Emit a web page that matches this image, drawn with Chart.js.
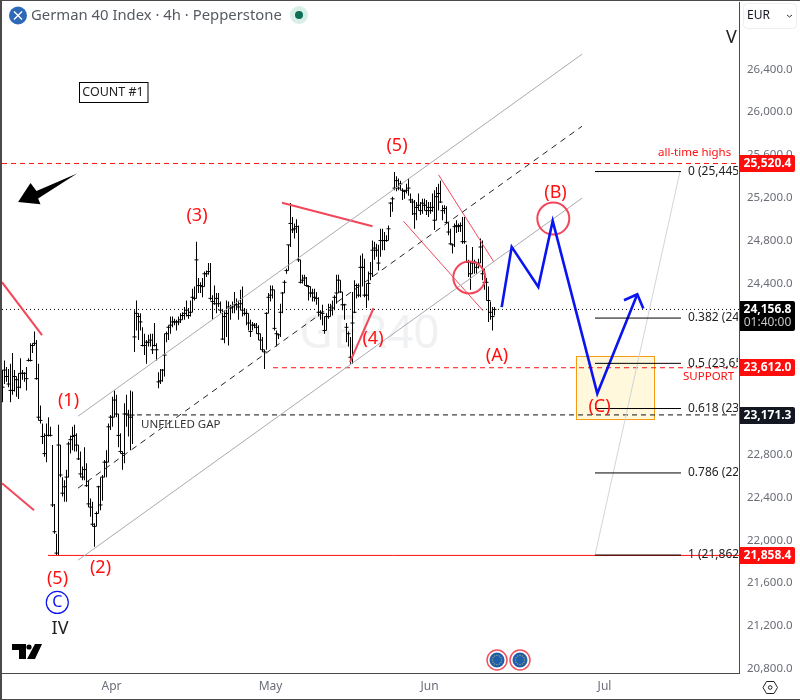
<!DOCTYPE html>
<html>
<head>
<meta charset="utf-8">
<title>German 40 Index</title>
<script src="https://cdn.jsdelivr.net/npm/chart.js@4"></script>
<style>
  html, body { margin: 0; padding: 0; background: #fff; }
  #wrap { width: 800px; height: 700px; }
</style>
</head>
<body>
<div id="wrap"><canvas id="chart" width="800" height="700"></canvas></div>
<script>
// --- Price bars, one entry per 4h bar ---
const highs = [
23590,23680,23620,23600,23650,23750,23590,23530,23560,23700,23590,23570,23620,23700,23840,23840,23950,23870,23650,23260,23090,23000,23090,23150,23060,22890,22340,22060,23080,22890,22590,22560,22660,22920,22980,23060,23080,23000,22890,22830,22690,22870,22720,22560,22390,22360,22160,22270,22510,22590,22610,22750,22840,23090,23170,23340,23400,23360,23180,23000,22830,23280,23360,23220,23400,23390,
24150,24240,24120,24120,23990,23930,23870,23920,23930,23930,24030,23840,23570,23600,23600,23930,23950,24010,24090,24090,24070,24060,24090,24120,24130,24180,24240,24170,24240,24350,24370,24790,24450,24410,24450,24510,24520,24590,24590,24290,24380,24310,24310,24230,24150,24150,24240,24230,24200,24230,24320,24260,24240,24340,24370,24170,24150,24120,24060,24040,24030,24030,24010,23930,23900,23780,24130,24310,24380,24380,24340,23960,23930,24210,24320,24430,24540,24760,25150,25020,24960,25000,24940,24620,24480,24480,24460,24380,24370,24350,24350,24320,24270,24150,24200,24090,24120,24210,24210,
24240,24290,24480,24480,24430,24320,24210,24030,23950,23900,24320,24430,24400,24400,24660,24680,24630,24400,24510,24600,24800,24790,24770,24760,24910,24910,24880,24850,24940,25160,25210,25440,25400,25380,25360,25290,25270,25330,25380,25240,25190,25180,25160,25240,25160,25190,25190,25180,25160,25160,25240,25270,25300,25330,25360,25130,25130,25120,24970,24910,24770,24960,24990,24960,24970,25020,25020,24760,24620,24600,24740,24620,24600,24630,24820,24800,24540,24450,24370,24230,24180,24180
];
const lows = [
23290,23460,23480,23430,23290,23360,23390,23340,23320,23420,23500,23480,23400,23670,23670,23750,23820,23500,23120,23090,22900,22780,22730,22970,22970,22310,22060,21860,21860,22590,22410,22360,22360,22590,22810,22840,22830,22830,22750,22590,22560,22560,22500,22310,22220,22130,21940,22130,22250,22280,22370,22590,22590,22730,23030,23060,23150,23150,22870,22810,22660,22720,23060,22970,22840,22900,
23760,23960,23870,23960,23810,23730,23650,23810,23810,23740,23810,23680,23420,23460,23480,23530,23850,23870,23930,23990,24010,23960,24010,24030,24060,24060,24090,24070,24090,24130,24240,24260,24310,24310,24270,24370,24460,24480,24240,24060,24200,24120,24180,24120,23870,23840,23900,23820,24060,24120,24120,24150,24060,24150,24090,24100,24010,23960,23900,23960,23980,23930,23870,23780,23760,23600,23780,24120,24230,24260,23960,23810,23880,23900,24120,24310,24490,24520,24740,24870,24820,24870,24600,24400,24400,24380,24370,24240,24270,24230,24230,24200,24090,24060,24010,23930,23960,24070,24090,
24100,24150,24210,24310,24310,24150,24060,23850,23810,23650,23650,24120,24260,24270,24270,24370,24270,24170,24240,24430,24460,24620,24650,24520,24650,24710,24710,24790,24800,25020,25070,25270,25260,25270,25270,25180,25190,25240,25220,25150,25040,24910,24990,25080,25040,25050,25080,25040,25020,25050,25070,24900,24990,25080,25150,24990,25050,24960,24850,24760,24680,24740,24870,24880,24880,24770,24770,24590,24460,24340,24490,24490,24490,24540,24590,24430,24340,24240,24040,24060,23960,24100
];
const closes = [
23430,23590,23530,23460,23400,23400,23530,23500,23430,23560,23560,23560,23510,23680,23680,23820,23840,23510,23150,23120,22970,22810,22980,22980,22980,22330,22080,21880,22890,22610,22440,22500,22590,22900,22940,22970,22980,22890,22760,22620,22590,22660,22510,22340,22310,22150,22130,22250,22500,22330,22590,22730,22730,23060,23150,23150,23310,23180,22980,22830,22810,23180,23180,23170,23150,23170,
23900,24120,24090,24040,23820,23820,23850,23850,23870,23780,23820,23780,23480,23490,23590,23730,23930,23990,24010,24040,24040,24040,24040,24060,24100,24120,24150,24100,24130,24270,24260,24620,24380,24380,24370,24490,24490,24510,24260,24230,24210,24260,24210,24150,23880,24090,24120,24180,24170,24180,24200,24200,24180,24210,24150,24120,24120,24030,23950,24010,24010,23990,23930,23870,23780,23760,24120,24270,24290,24340,23980,23930,23920,24130,24310,24410,24520,24760,24960,24900,24910,24930,24620,24410,24430,24450,24380,24370,24310,24310,24270,24260,24130,24130,24120,23960,24090,24090,24150,
24170,24270,24310,24430,24320,24200,24200,23990,23930,23710,24030,24130,24380,24290,24550,24550,24290,24290,24400,24490,24710,24730,24710,24590,24800,24800,24800,24800,24910,25150,25190,25290,25360,25290,25330,25270,25260,25270,25290,25180,25160,25050,25110,25130,25080,25150,25130,25080,25110,25080,25110,24990,25210,25240,25160,25080,25100,24970,24880,24770,24760,24930,24940,24930,24940,24790,24790,24600,24600,24490,24590,24600,24550,24590,24740,24490,24410,24410,24240,24130,24090,24156.8
];

// --- Axes ---
const priceTicks = [20800,21200,21600,22000,22400,22800,23200,23600,24000,24400,24800,25200,25600,26000,26400];
const monthTicks = [54.5,134,213.5,301];
const monthLabels = ['Apr','May','Jun','Jul'];

// --- Levels ---
const athLevel = 25520.4;
const supportLevel = 23612.0;
const gapLevel = 23171.3;
const lowLevel = 21858.4;
const lastPrice = 24156.8;
const fibLevels = [25445, 24076, 23653, 23231, 22629, 21862];
const fibNames = ['0 (25,445.0)','0.382 (24,076.5)','0.5 (23,653.5)','0.618 (23,231.0)','0.786 (22,629.0)','1 (21,862.0)'];

// --- Drawn tools, [bar, price] pairs ---
const channelUpper = [[37.75,23159],[289.75,26541]];
const channelMiddle = [[37.75,22487],[289.75,25868]];
const channelLower = [[37.75,21814],[289.75,25196]];
const redLineLeftTop = [[-0.25,24411],[19.75,23916]];
const redLineLeftLow = [[-0.25,22533],[15.75,22281]];
const redLineTop = [[139.75,25154],[185,24934]];
const redLineWave4 = [[173.75,23664],[185.5,24168]];
const thinRedUpper = [[218,25415],[245.75,24598]];
const thinRedLower = [[200.5,24981],[240.25,24145]];
const fibTrend = [[296.25,21862],[338.75,25445]];
const bluePath = [[249.6,24178],[254.6,24741],[267.9,24367],[275.1,24984],[297.4,23371],[317.4,24299]];
const blueHead = [[310.75,24243],[317.4,24299],[320.4,24165]];
const redCircles = [[233.4,24455],[275.4,25006]];
const blueCircle = [[27.4,21419]];
const supportBox = [286.6,23720,325.4,23128];
const bigArrow = [[37.3,25427],[17,25264],[14,25339],[7.8,25161],[19,25140],[17.8,25193]];

const FONT = '"Noto Sans", sans-serif';
const RED = '#ff1010';
const SOFT_RED = '#f2475a';
const BLUE = '#0a14f0';

const points = arr => arr.map(p => ({ x: p[0], y: p[1] }));
const hLine = (y, from, to) => [{ x: from, y }, { x: to, y }];

function lineSet(data, color, width, dash, order) {
    return {
        type: 'scatter', data, showLine: true, borderColor: color, backgroundColor: color,
        borderWidth: width, borderDash: dash || [], pointRadius: 0, order: order || 2,
        tension: 0, fill: false
    };
}

const datasets = [
    {
        type: 'bar',
        data: highs.map((h, i) => ({ x: i, y: [lows[i], h] })),
        backgroundColor: '#000', borderWidth: 0, barThickness: 1, grouped: false,
        inflateAmount: 0, order: 6
    },
    {
        type: 'scatter',
        data: closes.map((c, i) => ({ x: i, y: c })),
        pointStyle: 'line', pointRadius: 2, borderColor: '#000', borderWidth: 1, order: 5
    },
    lineSet(hLine(lastPrice, -0.25, 368.25), '#000', 1, [1, 3], 7),
    lineSet(points(channelUpper), '#a9a9b0', 1),
    lineSet(points(channelMiddle), '#222', 1, [6, 5]),
    lineSet(points(channelLower), '#a9a9b0', 1),
    lineSet(points(fibTrend), '#d1d4dc', 1),
    lineSet(hLine(athLevel, -0.25, 368.25), RED, 1, [5, 4]),
    lineSet(hLine(supportLevel, 135.25, 368.25), RED, 1, [5, 4]),
    lineSet(hLine(gapLevel, 67.25, 368.25), '#111', 1, [5, 4]),
    lineSet(hLine(lowLevel, 22.75, 368.25), RED, 1),
    ...fibLevels.map(l => lineSet(hLine(l, 296.25, 339.25), '#000', 1, [], 1)),
    lineSet(points(redLineLeftTop), SOFT_RED, 2),
    lineSet(points(redLineLeftLow), SOFT_RED, 2),
    lineSet(points(redLineTop), SOFT_RED, 2),
    lineSet(points(redLineWave4), SOFT_RED, 2),
    lineSet(points(thinRedUpper), SOFT_RED, 1),
    lineSet(points(thinRedLower), SOFT_RED, 1),
    lineSet(points(bluePath), BLUE, 2.6, [], 1),
    lineSet(points(blueHead), BLUE, 2.6, [], 1),
    {
        type: 'scatter', data: points(redCircles), pointStyle: 'circle', pointRadius: 16,
        borderColor: SOFT_RED, borderWidth: 2, backgroundColor: 'transparent', order: 1
    },
    {
        type: 'scatter', data: points(blueCircle), pointStyle: 'circle', pointRadius: 11,
        borderColor: BLUE, borderWidth: 1.2, backgroundColor: 'transparent', order: 1
    }
];

// Text placed on the pane
const paneLabels = [
    { t: '(5)', x: 397, y: 146, c: RED, s: 18 },
    { t: '(3)', x: 197, y: 216, c: RED, s: 18 },
    { t: '(1)', x: 68.5, y: 400.5, c: RED, s: 18 },
    { t: '(2)', x: 100.5, y: 567.5, c: RED, s: 18 },
    { t: '(5)', x: 57.5, y: 578.5, c: RED, s: 18 },
    { t: '(4)', x: 373, y: 339, c: RED, s: 18 },
    { t: '(A)', x: 497, y: 356, c: RED, s: 18 },
    { t: '(B)', x: 555.5, y: 192.5, c: RED, s: 18 },
    { t: '(C)', x: 599.5, y: 406.5, c: RED, s: 18 },
    { t: 'C', x: 57.3, y: 602.5, c: BLUE, s: 16 },
    { t: 'IV', x: 60, y: 629, c: '#222', s: 18 },
    { t: 'V', x: 731.5, y: 37.5, c: '#222', s: 18 }
];

function text(ctx, t, x, y, color, size, align, weight) {
    ctx.font = (weight || '') + ' ' + size + 'px ' + FONT;
    ctx.fillStyle = color;
    ctx.textAlign = align || 'center';
    ctx.textBaseline = 'middle';
    ctx.fillText(t, x, y);
}

function priceTag(ctx, y0, h, bg, lines) {
    ctx.fillStyle = bg;
    ctx.beginPath();
    ctx.roundRect(740, y0, 55, h, [0, 2, 2, 0]);
    ctx.fill();
    lines.forEach((l, i) => text(ctx, l, 767.5, y0 + 8.5 + i * 13, i ? '#c8c8c8' : '#fff', 12, 'center', i ? '' : 'bold'));
}

const overlayPlugin = {
    id: 'overlay',
    beforeDatasetsDraw(chart) {
        const { ctx, scales: { x, y } } = chart;
        ctx.save();
        // symbol watermark
        text(ctx, 'GER40', 369.5, 335, '#f0f1f3', 46, 'center');
        // support zone
        const bx = x.getPixelForValue(supportBox[0]);
        const by = y.getPixelForValue(supportBox[1]);
        const bw = x.getPixelForValue(supportBox[2]) - bx;
        const bh = y.getPixelForValue(supportBox[3]) - by;
        ctx.fillStyle = '#fff8dc';
        ctx.fillRect(bx, by, bw, bh);
        ctx.strokeStyle = '#f59a14';
        ctx.lineWidth = 1;
        ctx.strokeRect(Math.round(bx) + 0.5, Math.round(by) + 0.5, Math.round(bw), Math.round(bh));
        ctx.restore();
    },
    afterDatasetsDraw(chart) {
        const { ctx, chartArea, scales: { x, y } } = chart;
        ctx.save();

        // big black arrow
        ctx.fillStyle = '#000';
        ctx.beginPath();
        bigArrow.forEach((p, i) => {
            const px = x.getPixelForValue(p[0]), py = y.getPixelForValue(p[1]);
            if (i) ctx.lineTo(px, py); else ctx.moveTo(px, py);
        });
        ctx.closePath();
        ctx.fill();

        // COUNT #1 box
        ctx.fillStyle = '#fff';
        ctx.fillRect(79.5, 82.5, 68.5, 20);
        ctx.strokeStyle = '#000';
        ctx.lineWidth = 1;
        ctx.strokeRect(79.5, 82.5, 68.5, 20);
        text(ctx, 'COUNT #1', 113, 92.5, '#222', 12.5);

        paneLabels.forEach(l => text(ctx, l.t, l.x, l.y, l.c, l.s));
        text(ctx, 'UNFILLED GAP', 141, 424.5, '#333', 11.5, 'left');
        text(ctx, 'all-time highs', 658, 153, RED, 11.5, 'left');
        text(ctx, 'SUPPORT', 683, 376.5, RED, 11.5, 'left');

        // fib labels run under the price scale
        ctx.save();
        ctx.beginPath();
        ctx.rect(chartArea.left, chartArea.top, chartArea.width - 1, chartArea.height);
        ctx.clip();
        fibLevels.forEach((l, i) => text(ctx, fibNames[i], 688, y.getPixelForValue(l), '#222', 12, 'left'));
        ctx.restore();

        // header
        ctx.fillStyle = '#2e69b8';
        ctx.beginPath(); ctx.arc(18, 15.5, 9, 0, Math.PI * 2); ctx.fill();
        ctx.strokeStyle = '#fff'; ctx.lineWidth = 1.4;
        ctx.beginPath();
        ctx.moveTo(14, 11.5); ctx.lineTo(22, 19.5);
        ctx.moveTo(22, 11.5); ctx.lineTo(14, 19.5);
        ctx.stroke();
        text(ctx, 'German 40 Index · 4h · Pepperstone', 31, 15.5, '#555a62', 14.85, 'left');
        ctx.fillStyle = '#d8efe8';
        ctx.beginPath(); ctx.arc(299, 15, 9, 0, Math.PI * 2); ctx.fill();
        ctx.fillStyle = '#0b6e55';
        ctx.beginPath(); ctx.arc(299, 15, 4, 0, Math.PI * 2); ctx.fill();

        // tradingview mark
        ctx.fillStyle = '#000';
        ctx.fillRect(12, 644, 14, 6);
        ctx.fillRect(19, 650, 7, 9);
        ctx.beginPath(); ctx.arc(29, 647, 2.6, 0, Math.PI * 2); ctx.fill();
        ctx.beginPath();
        ctx.moveTo(35, 644); ctx.lineTo(42, 644); ctx.lineTo(35, 659); ctx.lineTo(27, 659);
        ctx.closePath(); ctx.fill();

        // event flags
        [497, 520].forEach(cx => {
            ctx.strokeStyle = '#f0505f'; ctx.lineWidth = 1.5;
            ctx.beginPath(); ctx.arc(cx, 660, 10, 0, Math.PI * 2); ctx.stroke();
            ctx.fillStyle = '#1d5fae';
            ctx.beginPath(); ctx.arc(cx, 660, 7.5, 0, Math.PI * 2); ctx.fill();
            ctx.fillStyle = '#d8c23a';
            for (let k = 0; k < 12; k++) {
                const a = k * Math.PI / 6;
                ctx.fillRect(cx + Math.cos(a) * 4.6 - 0.5, 660 + Math.sin(a) * 4.6 - 0.5, 1, 1);
            }
        });

        // price scale tags
        priceTag(ctx, 155, 17, '#ff0c0c', ['25,520.4']);
        priceTag(ctx, 301, 30, '#000', ['24,156.8', '01:40:00']);
        priceTag(ctx, 359, 17, '#ff0c0c', ['23,612.0']);
        priceTag(ctx, 407, 17, '#131722', ['23,171.3']);
        priceTag(ctx, 547, 17, '#ff0c0c', ['21,858.4']);

        // currency button
        ctx.fillStyle = '#fff';
        ctx.strokeStyle = '#eeeeee'; ctx.lineWidth = 1;
        ctx.beginPath(); ctx.roundRect(743.5, 3.5, 53, 25, 4); ctx.fill(); ctx.stroke();
        text(ctx, 'EUR', 747, 15.5, '#131722', 12, 'left');
        ctx.strokeStyle = '#333'; ctx.lineWidth = 1;
        ctx.beginPath(); ctx.moveTo(787, 15); ctx.lineTo(789.5, 17); ctx.lineTo(792, 15); ctx.stroke();

        // settings hexagon
        ctx.strokeStyle = '#222'; ctx.lineWidth = 1;
        ctx.beginPath();
        ctx.moveTo(763, 687.5); ctx.lineTo(766.5, 681.5); ctx.lineTo(774, 681.5);
        ctx.lineTo(777.5, 687.5); ctx.lineTo(774, 693.5); ctx.lineTo(766.5, 693.5);
        ctx.closePath(); ctx.stroke();
        ctx.beginPath(); ctx.arc(770.2, 687.5, 1.8, 0, Math.PI * 2); ctx.stroke();

        // window frame
        ctx.strokeStyle = '#4a4a4a'; ctx.lineWidth = 1;
        ctx.beginPath();
        ctx.moveTo(0, 0.5); ctx.lineTo(800, 0.5);
        ctx.moveTo(800, 699.5); ctx.lineTo(0, 699.5);
        ctx.stroke();
        ctx.lineWidth = 2;
        ctx.beginPath(); ctx.moveTo(1, 0); ctx.lineTo(1, 700); ctx.stroke();
        ctx.restore();
    }
};

new Chart(document.getElementById('chart'), {
    data: { datasets },
    options: {
        responsive: false,
        animation: false,
        events: [],
        layout: { autoPadding: false, padding: { left: 2, top: 2, right: 0, bottom: 0 } },
        plugins: { legend: { display: false }, tooltip: { enabled: false }, title: { display: false } },
        scales: {
            x: {
                type: 'linear',
                min: -0.25,
                max: 368.25,
                offset: false,
                grid: { display: false, drawTicks: false },
                border: { display: true, color: '#4a4a4a' },
                afterBuildTicks: s => { s.ticks = monthTicks.map(v => ({ value: v })); },
                afterFit: s => { s.height = 27; s.paddingLeft = 0; s.paddingRight = 0; },
                ticks: {
                    padding: 6,
                    maxRotation: 0,
                    autoSkip: false,
                    color: '#6a6d78',
                    font: { family: FONT, size: 12 },
                    callback: v => monthLabels[monthTicks.indexOf(v)]
                }
            },
            y: {
                type: 'linear',
                position: 'right',
                min: 20760,
                max: 27029,
                grid: { display: false, drawTicks: false },
                border: { display: true, color: '#4a4a4a' },
                afterBuildTicks: s => { s.ticks = priceTicks.map(v => ({ value: v })); },
                afterFit: s => { s.width = 61; s.paddingTop = 0; s.paddingBottom = 0; },
                ticks: {
                    padding: 8,
                    autoSkip: false,
                    color: '#6a6d78',
                    font: { family: FONT, size: 11.5 },
                    callback: v => v.toLocaleString('en-US', { minimumFractionDigits: 1 })
                }
            }
        }
    },
    plugins: [overlayPlugin]
});
</script>
</body>
</html>
